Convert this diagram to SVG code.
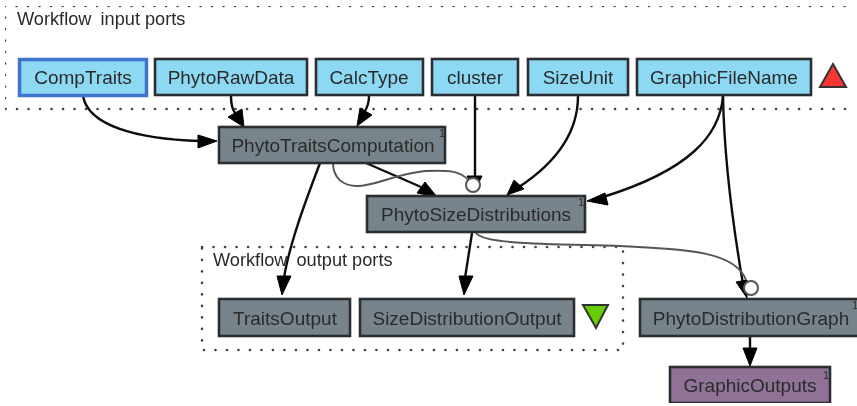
<svg xmlns="http://www.w3.org/2000/svg" width="857" height="406" viewBox="0 0 857 406">
<style>
text{font-family:"Liberation Sans",Arial,sans-serif;font-size:19px;fill:#2b2b2b;text-anchor:middle}
.cl{text-anchor:start;font-size:18.2px}
.sup{font-size:11px}
.cluster{fill:none;stroke:#444;stroke-width:2.6;stroke-dasharray:.1 11.4;stroke-linecap:round}
.in{fill:#8dd8f3;stroke:#2b2f33;stroke-width:2.6}
.gr{fill:#78848b;stroke:#2b2f33;stroke-width:2.6}
.pu{fill:#8f7296;stroke:#2b2f33;stroke-width:2.6}
.e{fill:none;stroke:#111;stroke-width:2.4}
.t{fill:none;stroke:#555;stroke-width:2}
.a{fill:#000;stroke:#000}
.o{fill:#fff;stroke:#555;stroke-width:2}
</style>
<defs><filter id="soft" x="0" y="0" width="100%" height="100%"><feGaussianBlur stdDeviation="0.45"/></filter></defs>
<rect width="857" height="406" fill="#fff"/>
<g filter="url(#soft)">
<g id="input-ports">
<path class="cluster" d="M5 6H851M5 6V109H855"/>
<text class="cl" x="17" y="25">Workflow <tspan dx="4">input ports</tspan></text>
</g>
<g id="output-ports">
<path class="cluster" d="M202 247H623V350H202Z"/>
<text class="cl" x="213" y="266">Workflow <tspan dx="4">output ports</tspan></text>
</g>
<g id="connectors">
<path class="e" d="M83 96C88 125 135 139 200 141"/><path class="a" d="M198 135L217 141L198 148Z"/>
<path class="e" d="M231 96C231 104 232 109 235 113"/><path class="a" d="M228 117L242 109L244 127Z"/>
<path class="e" d="M369 96C369 102 368 106 365 111"/><path class="a" d="M357 126L360 108L372 115Z"/>
<path class="e" d="M475 96V178"/><path class="a" d="M467 176H482L475 190Z"/>
<path class="e" d="M578 96C578 130 560 160 519 187"/><path class="a" d="M507 195L514 180L524 189Z"/>
<path class="e" d="M723 96C720 135 690 170 603 197"/><path class="a" d="M587 201L605 193L608 205Z"/>
<path class="e" d="M723 96C724 150 732 220 743 284"/><path class="a" d="M747 298L736 282L747 280Z"/>
<path class="e" d="M320 163C310 190 290 240 284 278"/><path class="a" d="M277 276H291L282 295Z"/>
<path class="e" d="M366 163L421 187"/><path class="a" d="M437 197L417 193L425 182Z"/>
<path class="e" d="M472 233L465 278"/><path class="a" d="M459 276H473L464 295Z"/>
<path class="e" d="M750 337V349"/><path class="a" d="M743 348H757L750 366Z"/>
<path class="t" d="M333 163C333 178 343 186 357 186C375 186 395 174 425 171C445 170 460 170 468 180"/>
<path class="t" d="M476 233C484 245 560 244 620 246C680 249 735 250 746 280"/>
<circle class="o" cx="473" cy="185" r="7"/>
<circle class="o" cx="751" cy="288" r="7"/>
</g>
<g id="CompTraits"><rect x="19.500" y="59.500" width="127" height="36" fill="#8dd8f3" stroke="#3f72d0" stroke-width="3.5"/><text x="83" y="84">CompTraits</text></g>
<g id="PhytoRawData"><rect class="in" x="155" y="59" width="152" height="36"/><text x="231" y="84">PhytoRawData</text></g>
<g id="CalcType"><rect class="in" x="316" y="59" width="107" height="36"/><text x="369" y="84">CalcType</text></g>
<g id="cluster"><rect class="in" x="432" y="59" width="86" height="36"/><text x="475" y="84">cluster</text></g>
<g id="SizeUnit"><rect class="in" x="528" y="59" width="100" height="36"/><text x="578" y="84">SizeUnit</text></g>
<g id="GraphicFileName"><rect class="in" x="637" y="59" width="174" height="36"/><text x="724" y="84">GraphicFileName</text></g>
<g id="input-marker"><path d="M833 64L846 87H820Z" fill="#f93434" stroke="#333" stroke-width="2"/></g>
<g id="PhytoTraitsComputation"><rect class="gr" x="219" y="127" width="226" height="36"/><text x="333" y="152">PhytoTraitsComputation</text><text class="sup" x="442" y="137">1</text></g>
<g id="PhytoSizeDistributions"><rect class="gr" x="367" y="196" width="218" height="36"/><text x="476" y="221">PhytoSizeDistributions</text><text class="sup" x="581" y="206">1</text></g>
<g id="TraitsOutput"><rect class="gr" x="219" y="299" width="131" height="37"/><text x="285" y="325">TraitsOutput</text></g>
<g id="SizeDistributionOutput"><rect class="gr" x="360" y="299" width="214" height="37"/><text x="467" y="325">SizeDistributionOutput</text></g>
<g id="output-marker"><path d="M583 305H608L596 328Z" fill="#66cc00" stroke="#333" stroke-width="2"/></g>
<g id="PhytoDistributionGraph"><rect class="gr" x="640" y="299" width="220" height="37"/><text x="751" y="325">PhytoDistributionGraph</text><text class="sup" x="855" y="309">1</text></g>
<g id="GraphicOutputs"><rect class="pu" x="670" y="367" width="160" height="36"/><text x="750" y="392">GraphicOutputs</text><text class="sup" x="826" y="379">1</text></g>
</g>
</svg>
